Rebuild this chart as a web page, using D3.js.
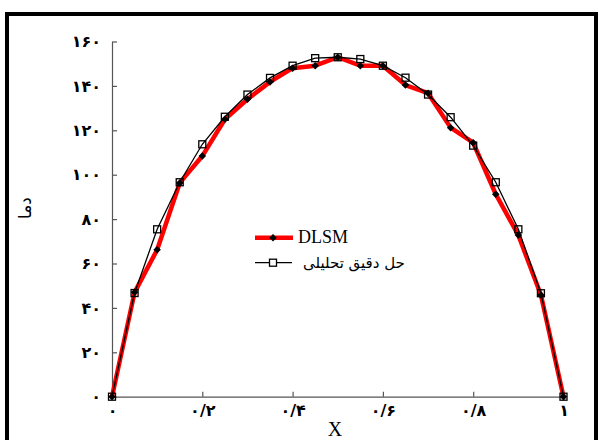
<!DOCTYPE html>
<html><head><meta charset="utf-8">
<script src="https://cdn.jsdelivr.net/npm/d3@7"></script>
<style>html,body{margin:0;padding:0;background:#fff;}svg{display:block;}</style>
</head><body>
<svg id="chart" width="599" height="440"></svg>
<script>
const xValues = [0,0.05,0.1,0.15,0.2,0.25,0.3,0.35,0.4,0.45,0.5,0.55,0.6,0.65,0.7,0.75,0.8,0.85,0.9,0.95,1];
const exactValues = [0,46.7,75.4,96.6,113.7,126.1,136.1,143.6,149.1,152.5,152.9,152.1,149.1,143.7,136.1,125.9,113.1,96.6,75.4,46.6,0];
const dlsmValues = [0,47,66.2,96.3,108.4,125,134,141.8,148,149.1,152.9,149.1,149.1,140.4,136.7,121.2,114.4,91.2,72.8,45.8,0];
const xTicks = [0,0.2,0.4,0.6,0.8,1];
const xTickLabels = ["۰","۰/۲","۰/۴","۰/۶","۰/۸","۱"];
const yTicks = [0,20,40,60,80,100,120,140,160];
const yTickLabels = ["۰","۲۰","۴۰","۶۰","۸۰","۱۰۰","۱۲۰","۱۴۰","۱۶۰"];
const seriesNames = ["DLSM","حل دقیق تحلیلی"];
const xTitle = "X";
const yTitle = "دما";

const svg = d3.select("#chart");
const x = d3.scaleLinear().domain([0,1]).range([112,563.5]);
const y = d3.scaleLinear().domain([0,160]).range([396.7,41.5]);

// outer frame
svg.append("rect").attr("x",7).attr("y",14).attr("width",589).attr("height",440)
  .attr("fill","none").attr("stroke","#000").attr("stroke-width",4);

const persian = "'DejaVu Sans', sans-serif";

// axes
const xAxis = svg.append("g").attr("transform",`translate(0,${y(0)})`)
  .call(d3.axisBottom(x).tickValues(xTicks).tickSize(-5).tickFormat((d,i)=>xTickLabels[i]).tickSizeOuter(0));
const yAxis = svg.append("g").attr("transform",`translate(${x(0)},0)`)
  .call(d3.axisLeft(y).tickValues(yTicks).tickSize(-5).tickFormat((d,i)=>yTickLabels[i]).tickSizeOuter(0));
[xAxis,yAxis].forEach(g=>{
  g.select(".domain").attr("stroke","#555").attr("stroke-width",1.2);
  g.selectAll(".tick line").attr("stroke","#555").attr("stroke-width",1.2);
  g.selectAll(".tick text").attr("fill","#000").style("font-family",persian).style("font-size","16px").style("font-weight","bold");
});
xAxis.selectAll(".tick text").attr("y",8).attr("dy","0.71em");
yAxis.selectAll(".tick text").attr("x",-11);

// axis titles
svg.append("text").attr("x",335).attr("y",435.5).attr("text-anchor","middle")
  .style("font-family","'Liberation Serif', serif").style("font-size","20px").text(xTitle);
svg.append("text").attr("transform","translate(31,208) rotate(-90)").attr("text-anchor","middle")
  .style("font-family",persian).style("font-size","17px").text(yTitle);

const dlsm = xValues.map((v,i)=>[v,dlsmValues[i]]);
const exact = xValues.map((v,i)=>[v,exactValues[i]]);
const line = d3.line().x(d=>x(d[0])).y(d=>y(d[1]));

svg.append("path").datum(dlsm).attr("d",line).attr("fill","none").attr("stroke","#ff0000").attr("stroke-width",4.5).attr("stroke-linejoin","round");
svg.append("path").datum(exact).attr("d",line).attr("fill","none").attr("stroke","#000").attr("stroke-width",1.3);

const diamond = d3.symbol().type(d3.symbolDiamond2).size(36);
svg.selectAll(".dm").data(dlsm).enter().append("path").attr("class","dm")
  .attr("d",diamond).attr("transform",d=>`translate(${x(d[0])},${y(d[1])})`).attr("fill","#000");
svg.selectAll(".sq").data(exact).enter().append("rect").attr("class","sq")
  .attr("x",d=>x(d[0])-3.5).attr("y",d=>y(d[1])-3.5).attr("width",7).attr("height",7)
  .attr("fill","#fff").attr("fill-opacity",0).attr("stroke","#000").attr("stroke-width",1.3);

// legend
const lg = svg.append("g");
lg.append("line").attr("x1",255).attr("x2",293).attr("y1",237.7).attr("y2",237.7).attr("stroke","#ff0000").attr("stroke-width",4.5);
lg.append("path").attr("d",diamond).attr("transform","translate(273,237.7)").attr("fill","#000");
lg.append("text").attr("x",298).attr("y",243).style("font-family","'Liberation Serif', serif").style("font-size","18px").text(seriesNames[0]);
lg.append("line").attr("x1",255).attr("x2",292).attr("y1",262.7).attr("y2",262.7).attr("stroke","#000").attr("stroke-width",1.3);
lg.append("rect").attr("x",269.5).attr("y",259.2).attr("width",7).attr("height",7).attr("fill","#fff").attr("stroke","#000").attr("stroke-width",1.3);
lg.append("text").attr("x",303).attr("y",268).attr("text-anchor","start")
  .style("font-family",persian).style("font-size","15px").text(seriesNames[1]);
</script>
</body></html>
